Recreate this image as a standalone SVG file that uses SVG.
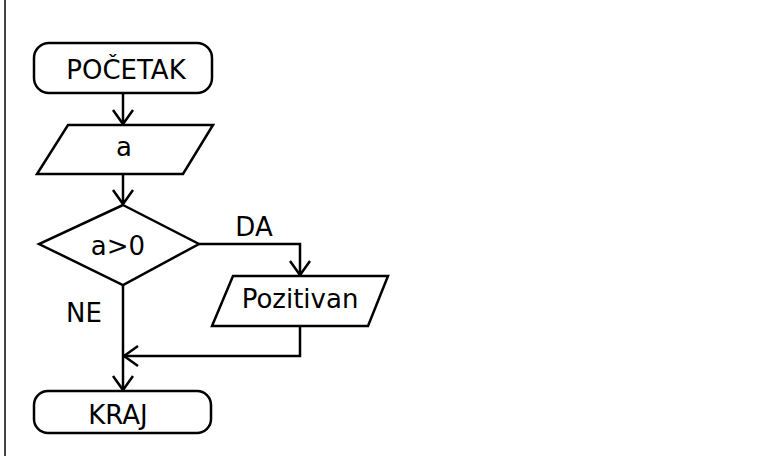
<svg xmlns="http://www.w3.org/2000/svg" width="771" height="456" viewBox="0 0 771 456">
<style>
.shape{fill:#fff;stroke:#000;stroke-width:2.5}
.conn{fill:none;stroke:#000;stroke-width:2.5}
.t{font-family:"DejaVu Sans",Verdana,sans-serif;font-size:26px;fill:#000;text-anchor:middle}
</style>
<defs>
<marker id="arr" markerUnits="userSpaceOnUse" viewBox="-17 -12 19 24" markerWidth="19" markerHeight="24" refX="0" refY="0" orient="auto" overflow="visible">
<path d="M-14,-10 L0,0 L-14,10" fill="none" stroke="#000" stroke-width="2.5"/>
</marker>
</defs>
<rect width="771" height="456" fill="#fff"/>
<line x1="5" y1="0" x2="5" y2="456" stroke="#444" stroke-width="2"/>
<g id="connectors">
<path class="conn" d="M123,94 V124" marker-end="url(#arr)"/>
<path class="conn" d="M123,174 V204" marker-end="url(#arr)"/>
<path class="conn" d="M199,244 H300 V275" marker-end="url(#arr)"/>
<path class="conn" d="M123,285 V390" marker-end="url(#arr)"/>
<path class="conn" d="M300,326 V356 H124" marker-end="url(#arr)"/>
</g>
<g id="start">
<rect class="shape" x="34" y="43" width="178" height="50" rx="15"/>
<text class="t" x="126" y="79">POČETAK</text>
</g>
<g id="input">
<polygon class="shape" points="68,125 213,125 183,174 37,174"/>
<text class="t" x="124" y="156">a</text>
</g>
<g id="decision">
<polygon class="shape" points="123,205 199,244 123,285 39,244"/>
<text class="t" x="118" y="255">a&gt;0</text>
</g>
<g id="output">
<polygon class="shape" points="233,276 388,276 368,326 212,326"/>
<text class="t" x="300" y="308" font-size="24">Pozitivan</text>
</g>
<g id="end">
<rect class="shape" x="34" y="391" width="177" height="42" rx="14"/>
<text class="t" x="118" y="424">KRAJ</text>
</g>
<g id="labels">
<text class="t" x="254" y="236">DA</text>
<text class="t" x="84" y="322">NE</text>
</g>
</svg>
